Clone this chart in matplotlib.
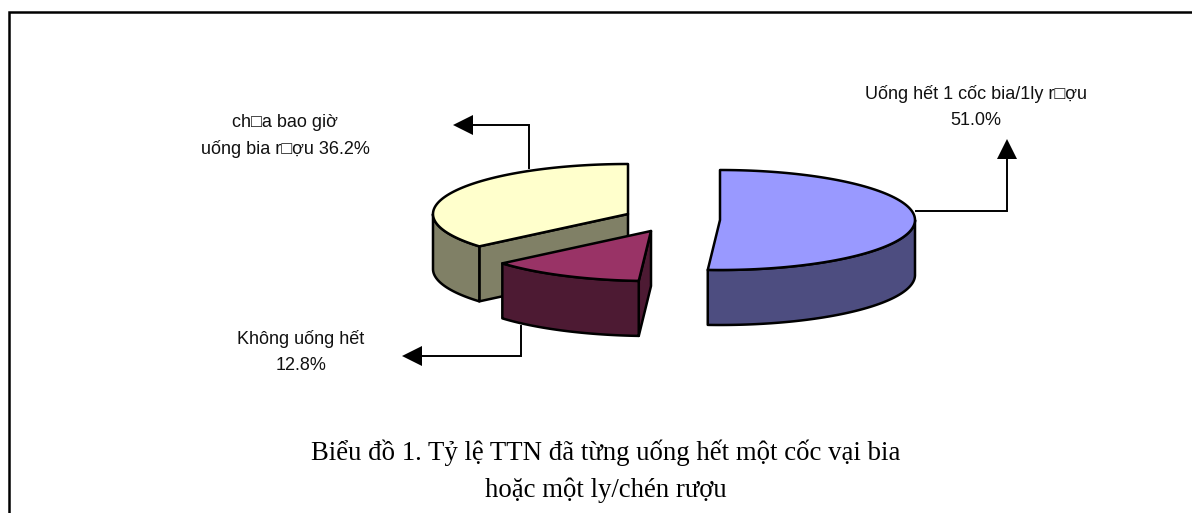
import numpy as np
import matplotlib
matplotlib.use("Agg")
import matplotlib.pyplot as plt
from matplotlib.patches import Polygon

# --- data ---
categories = ["Uống hết 1 cốc bia/1ly r\u25a1ợu\n51.0%",
              "Không uống hết\n12.8%",
              "ch\u25a1a bao giờ\nuống bia r\u25a1ợu 36.2%"]
shares = [51.0, 12.8, 36.2]
title_lines = "Biểu đồ 1. Tỷ lệ TTN đã từng uống hết một cốc vại bia\nhoặc một ly/chén rượu"

# --- style / layout (pixel space) ---
top_colors = ["#9999FF", "#993366", "#FFFFCC"]
side_colors = ["#4D4D80", "#4D1A33", "#808066"]
centres = [(720, 220), (651, 231), (628, 214)]
RX, RY, DEPTH = 195, 50, 55
label_pos = [(976, 107), (301, 352), (285, 136)]
LW = 1.8

fig = plt.figure(figsize=(11.92, 5.13), dpi=100, facecolor="white")
ax = fig.add_axes([0, 0, 1, 1])
ax.set_xlim(0, 1192)
ax.set_ylim(513, 0)
ax.axis("off")

sans = ["Liberation Sans", "DejaVu Sans"]


def rim(cx, cy, a0, a1, dz=0.0, n=120):
    t = np.radians(np.linspace(a0, a1, n))
    return np.column_stack([cx + RX * np.sin(t), cy - RY * np.cos(t) + dz])


def poly(points, color, z):
    ax.add_patch(Polygon(points, closed=True, facecolor=color, edgecolor="black",
                         linewidth=LW, joinstyle="round", zorder=z))


edges = np.cumsum([0.0] + shares) / sum(shares) * 360.0

# draw order: yellow, maroon, blue so that overlaps follow the reference
for i, z in ((2, 2), (1, 3), (0, 4)):
    a0, a1 = edges[i], edges[i + 1]
    cx, cy = centres[i]
    sub = z * 10
    # cut face at the slice's start angle looks towards the viewer (maroon, yellow)
    if i in (1, 2):
        p = rim(cx, cy, a0, a0, n=1)[0]
        face = [(cx, cy), p, (p[0], p[1] + DEPTH), (cx, cy + DEPTH)]
        poly(face, side_colors[i], sub)
    # outer wall: the part of the rim facing the viewer (90..270 degrees)
    w0, w1 = max(a0, 90.0), min(a1, 270.0)
    if w1 > w0:
        upper = rim(cx, cy, w0, w1)
        lower = rim(cx, cy, w0, w1, DEPTH)[::-1]
        poly(np.vstack([upper, lower]), side_colors[i], sub + 1)
    # top face
    poly(np.vstack([[(cx, cy)], rim(cx, cy, a0, a1)]), top_colors[i], sub + 2)

# leader lines and arrows
leaders = [
    [(916, 211), (1007, 211), (1007, 158)],
    [(521, 326), (521, 356), (422, 356)],
    [(529, 168), (529, 125), (473, 125)],
]
heads = [
    [(1007, 139), (997, 159), (1017, 159)],
    [(402, 356), (422, 346), (422, 366)],
    [(453, 125), (473, 115), (473, 135)],
]
for line, head in zip(leaders, heads):
    xs, ys = zip(*line)
    ax.plot(xs, ys, color="black", lw=1.4, zorder=1, solid_joinstyle="miter")
    ax.add_patch(Polygon(head, closed=True, facecolor="black", edgecolor="none", zorder=1))

# labels
for text, (x, y) in zip(categories, label_pos):
    ax.text(x, y, text, ha="center", va="center", fontsize=13, family=sans,
            linespacing=1.65, color="#111111")

# caption
ax.text(606, 471, title_lines, ha="center", va="center", fontsize=19.3,
        family=["Liberation Serif", "DejaVu Serif"], linespacing=1.6, color="black")

# frame: only the top and left sides reach the image
ax.plot([8.5, 8.5, 1192], [513, 11.5, 11.5], color="black", lw=1.8,
        solid_joinstyle="miter", zorder=10, clip_on=False)

fig.savefig("out.png", dpi=100, facecolor="white")
